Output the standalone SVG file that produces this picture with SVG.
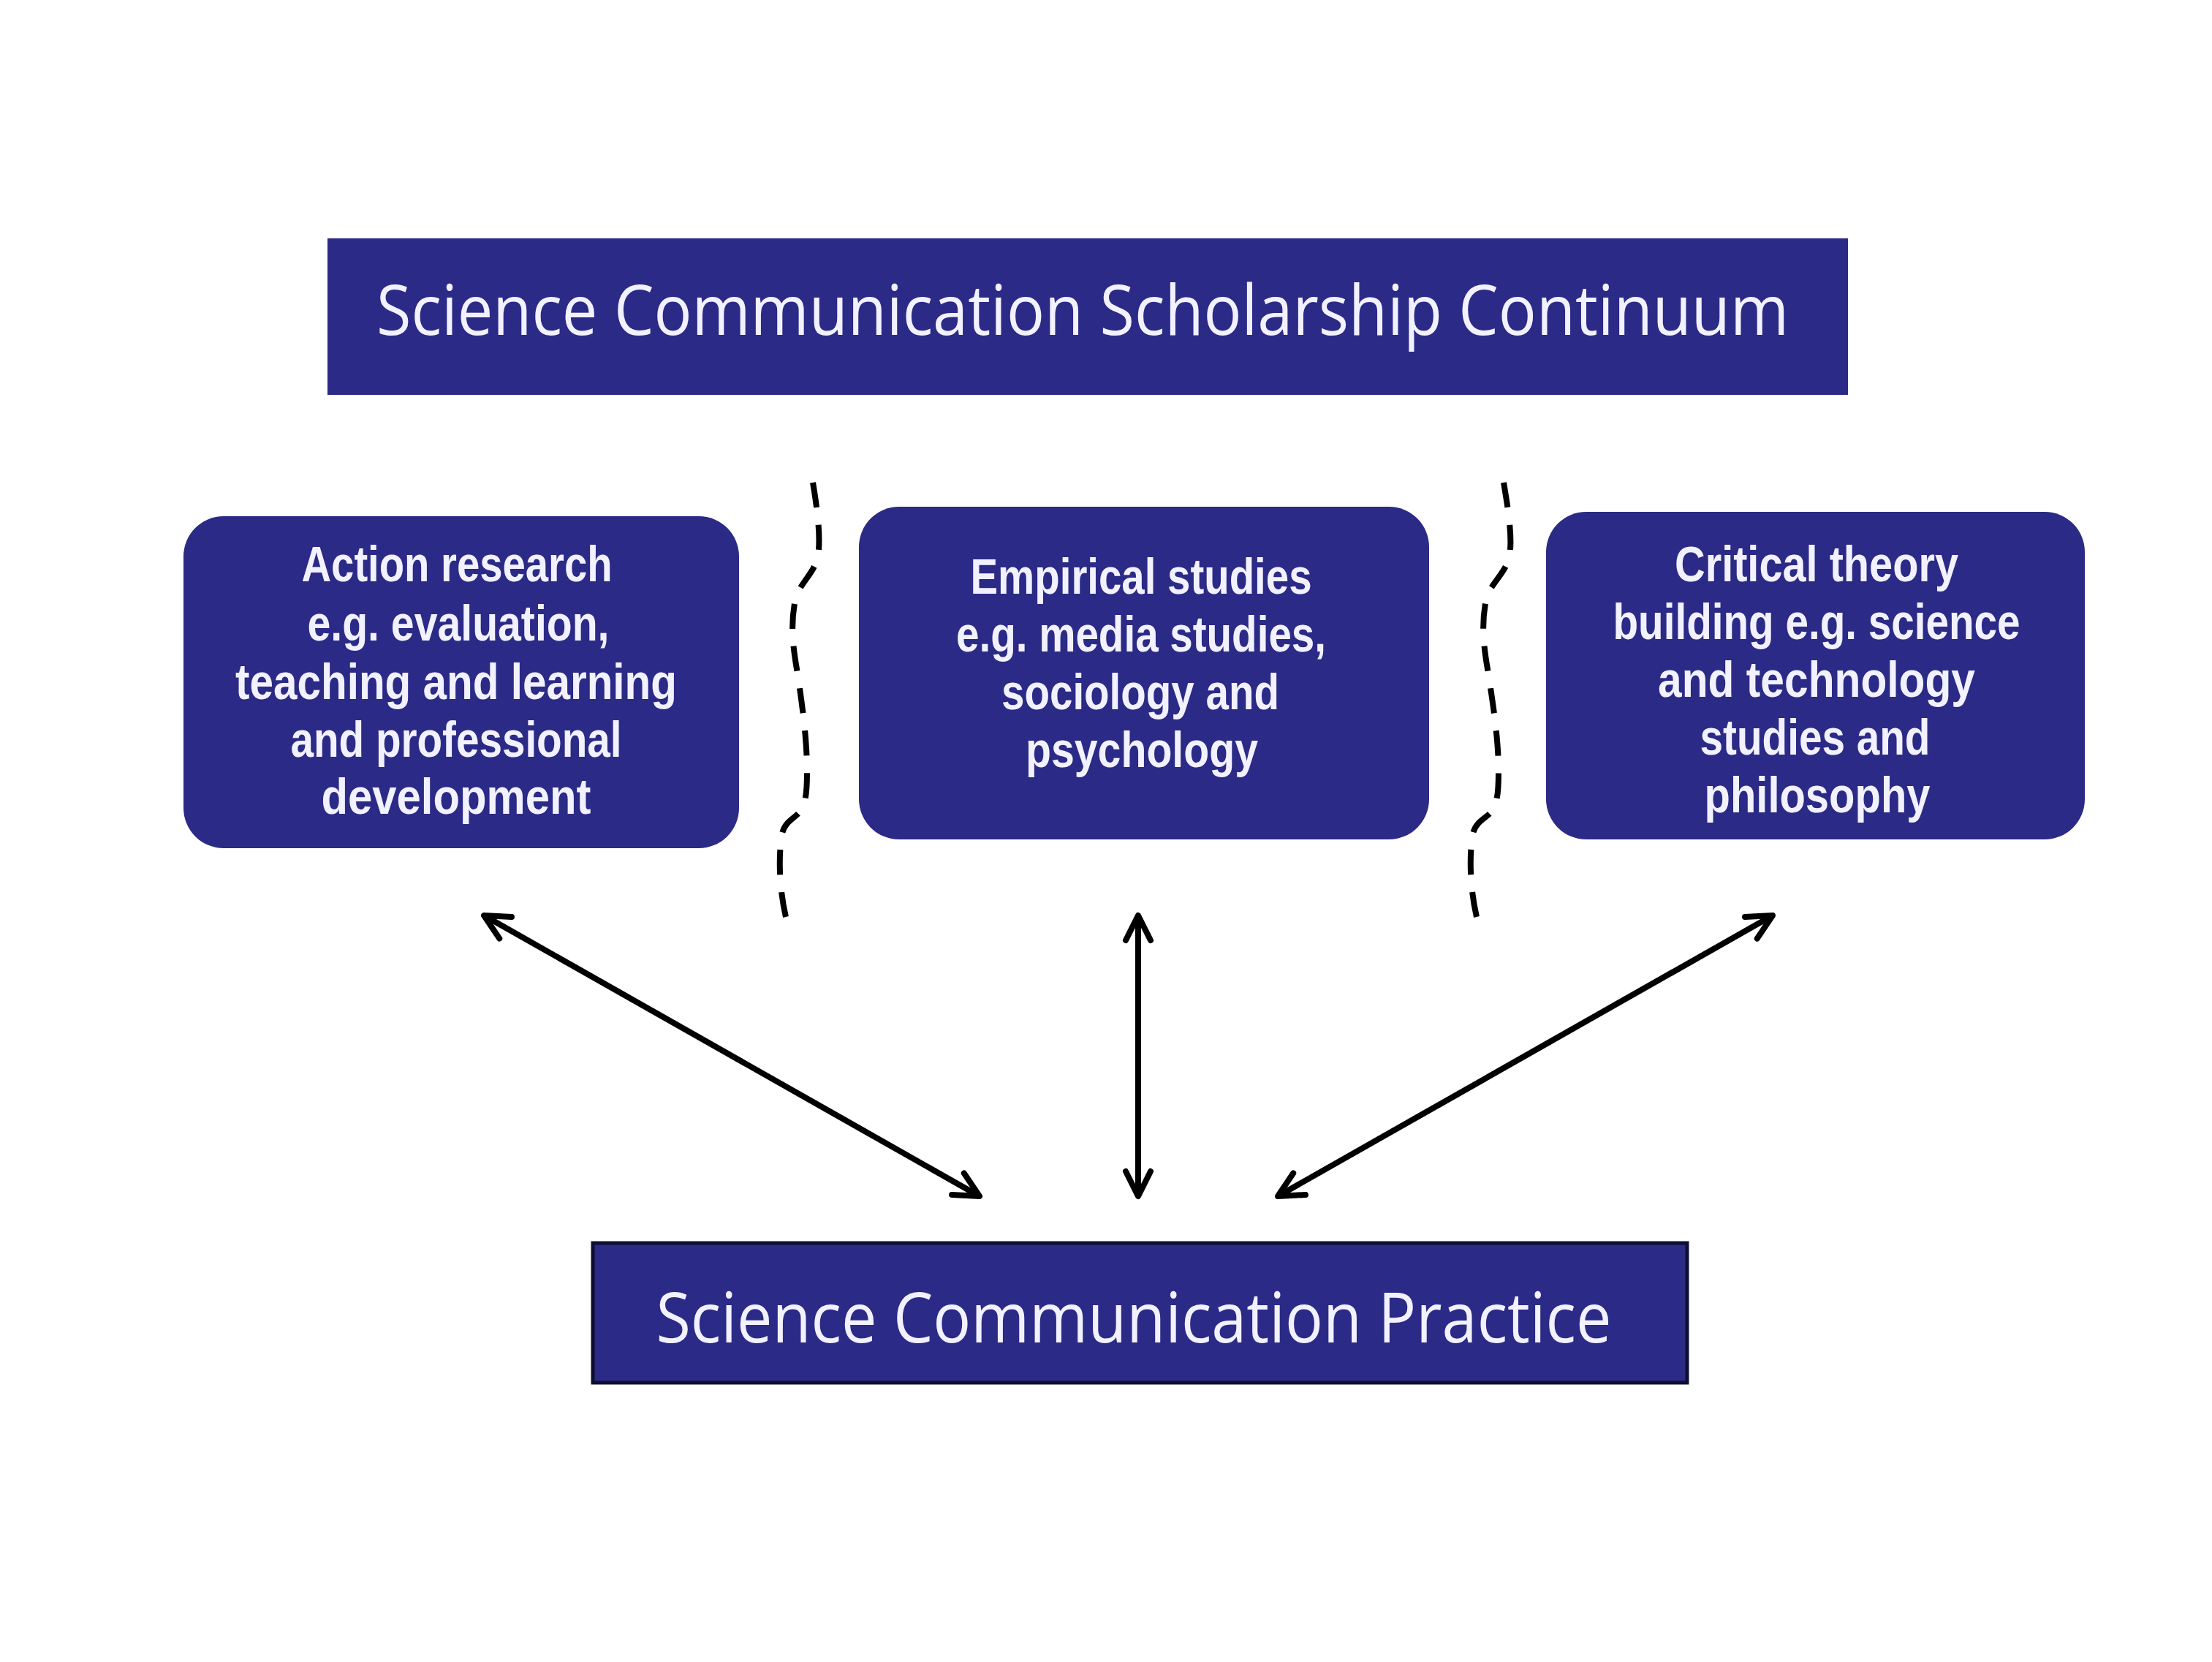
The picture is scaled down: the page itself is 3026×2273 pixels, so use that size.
<svg xmlns="http://www.w3.org/2000/svg" width="3026" height="2273" viewBox="0 0 3026 2273">
  <style>
    .box { fill: #2b2a86; }
    .title { font-family: "Open Sans", "Noto Sans", sans-serif; font-size: 95px; fill: #f2f1ff; text-anchor: middle; }
    .lbl { font-family: "Liberation Sans", Arial, sans-serif; font-size: 68px; font-weight: bold; fill: #f2f1ff; text-anchor: middle; }
    .arrow { stroke: #000; stroke-width: 8; fill: none; marker-start: url(#head); marker-end: url(#head); }
    .divider { stroke: #000; stroke-width: 8; fill: none; stroke-dasharray: 33 23; }
  </style>
  <defs>
    <marker id="head" markerUnits="userSpaceOnUse" orient="auto-start-reverse" refX="0" refY="0" markerWidth="60" markerHeight="60" overflow="visible">
      <path d="M-34,-17 L0,0 L-34,17" fill="none" stroke="#000" stroke-width="8" stroke-linecap="round" stroke-linejoin="round"/>
    </marker>
  </defs>
  <rect width="3026" height="2273" fill="#ffffff"/>

  <g id="continuum">
    <rect class="box" x="448" y="326" width="2080" height="214"/>
    <text class="title" x="1481" y="458" textLength="1932" lengthAdjust="spacingAndGlyphs">Science Communication Scholarship Continuum</text>
  </g>

  <g id="action-research">
    <rect class="box" x="251" y="706" width="760" height="454" rx="55" ry="55"/>
    <text class="lbl" x="625" y="795" textLength="425" lengthAdjust="spacingAndGlyphs">Action research</text>
    <text class="lbl" x="627" y="876" textLength="413" lengthAdjust="spacingAndGlyphs">e.g. evaluation,</text>
    <text class="lbl" x="624" y="956" textLength="604" lengthAdjust="spacingAndGlyphs">teaching and learning</text>
    <text class="lbl" x="624" y="1035" textLength="453" lengthAdjust="spacingAndGlyphs">and professional</text>
    <text class="lbl" x="624" y="1113" textLength="369" lengthAdjust="spacingAndGlyphs">development</text>
  </g>

  <g id="empirical-studies">
    <rect class="box" x="1175" y="693" width="780" height="455" rx="55" ry="55"/>
    <text class="lbl" x="1561" y="812" textLength="467" lengthAdjust="spacingAndGlyphs">Empirical studies</text>
    <text class="lbl" x="1561" y="891" textLength="506" lengthAdjust="spacingAndGlyphs">e.g. media studies,</text>
    <text class="lbl" x="1560" y="970" textLength="380" lengthAdjust="spacingAndGlyphs">sociology and</text>
    <text class="lbl" x="1562" y="1049" textLength="318" lengthAdjust="spacingAndGlyphs">psychology</text>
  </g>

  <g id="critical-theory">
    <rect class="box" x="2115" y="700" width="737" height="448" rx="55" ry="55"/>
    <text class="lbl" x="2485" y="795" textLength="388" lengthAdjust="spacingAndGlyphs">Critical theory</text>
    <text class="lbl" x="2485" y="874" textLength="557" lengthAdjust="spacingAndGlyphs">building e.g. science</text>
    <text class="lbl" x="2485" y="953" textLength="434" lengthAdjust="spacingAndGlyphs">and technology</text>
    <text class="lbl" x="2483" y="1032" textLength="315" lengthAdjust="spacingAndGlyphs">studies and</text>
    <text class="lbl" x="2486" y="1111" textLength="309" lengthAdjust="spacingAndGlyphs">philosophy</text>
  </g>

  <g id="practice">
    <rect class="box" x="811" y="1700" width="1497" height="191" stroke="#0e0e33" stroke-width="5"/>
    <text class="title" x="1551" y="1836" textLength="1307" lengthAdjust="spacingAndGlyphs">Science Communication Practice</text>
  </g>

  <g id="dividers">
    <path class="divider" pathLength="593" d="M1112,660 C1117,690 1122,725 1120,752 C1118,785 1092,795 1087,825 C1082,855 1084,880 1090,915 C1097,960 1104,1010 1104,1055 C1104,1080 1103,1095 1096,1108 C1088,1120 1072,1122 1069,1145 C1065,1175 1066,1215 1075,1254"/>
    <path class="divider" pathLength="593" d="M2057,660 C2062,690 2068,725 2066,752 C2064,785 2037,795 2032,825 C2027,855 2029,880 2035,915 C2042,960 2050,1010 2050,1055 C2050,1080 2049,1095 2042,1108 C2034,1120 2017,1122 2014,1145 C2010,1175 2011,1215 2020,1254"/>
  </g>

  <g id="connectors">
    <line class="arrow" x1="662" y1="1252" x2="1340" y2="1636"/>
    <line class="arrow" x1="1557" y1="1252" x2="1557" y2="1636"/>
    <line class="arrow" x1="2425" y1="1252" x2="1748" y2="1636"/>
  </g>
</svg>
